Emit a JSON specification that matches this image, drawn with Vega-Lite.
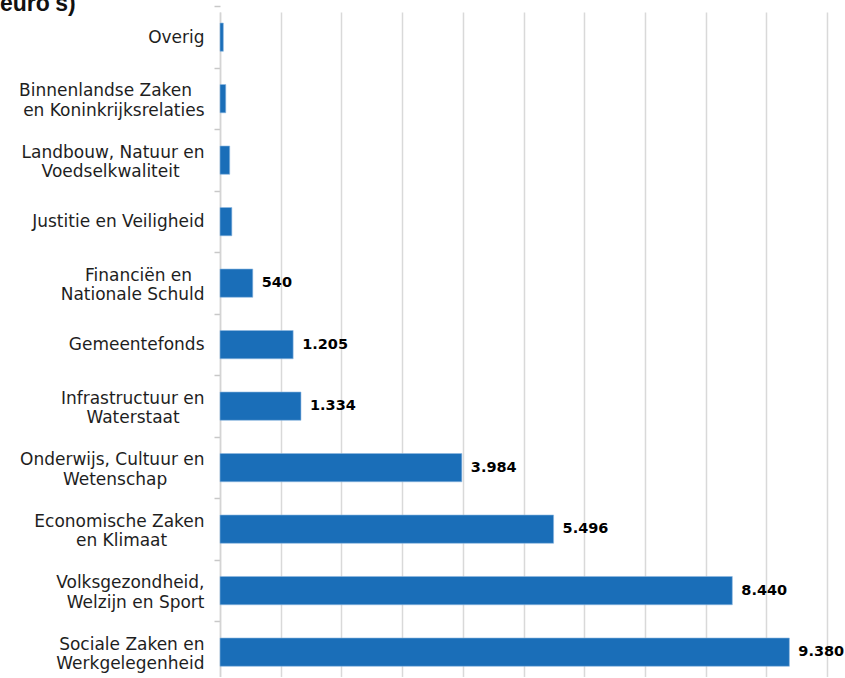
{
  "$schema": "https://vega.github.io/schema/vega-lite/v6.json",
  "autosize": {"type": "none"},
  "padding": {"left": 220, "top": 12, "right": 18, "bottom": 0},
  "width": 607,
  "height": 665.3,
  "title": {
    "text": "euro's)",
    "anchor": "start",
    "frame": "group",
    "orient": "top",
    "offset": 0,
    "dy": 29,
    "baseline": "alphabetic",
    "font": "Liberation Sans",
    "fontWeight": "bold",
    "fontSize": 23,
    "color": "#111111",
    "dx": -220
  },
  "data": {
    "values": [
      {"categorie": "Overig", "bedrag": 55},
      {"categorie": "Binnenlandse Zaken|en Koninkrijksrelaties", "bedrag": 95},
      {"categorie": "Landbouw, Natuur en|Voedselkwaliteit", "bedrag": 160},
      {"categorie": "Justitie en Veiligheid", "bedrag": 195},
      {"categorie": "Financiën en|Nationale Schuld", "bedrag": 540},
      {"categorie": "Gemeentefonds", "bedrag": 1205},
      {"categorie": "Infrastructuur en|Waterstaat", "bedrag": 1334},
      {"categorie": "Onderwijs, Cultuur en|Wetenschap", "bedrag": 3984},
      {"categorie": "Economische Zaken|en Klimaat", "bedrag": 5496},
      {"categorie": "Volksgezondheid,|Welzijn en Sport", "bedrag": 8440},
      {"categorie": "Sociale Zaken en|Werkgelegenheid", "bedrag": 9380}
    ]
  },
  "encoding": {
    "y": {
      "field": "categorie",
      "type": "nominal",
      "sort": null,
      "scale": {"paddingInner": 0.54, "paddingOuter": 0.179},
      "axis": {
        "title": null,
        "labelExpr": "datum.value ? (indexof(datum.value, '|') >= 0 ? [pad(split(datum.value, '|')[0], length(split(datum.value, '|')[0]) + round(max(0, (0.65*length(split(datum.value, '|')[1]) + 0.5*length(replace(split(datum.value, '|')[1], regexp('[ijlI.,]', 'g'), '')) + 0.35*length(replace(split(datum.value, '|')[1], regexp('[ ftr]', 'g'), '')) - 0.5*length(replace(split(datum.value, '|')[1], regexp('[mwMW]', 'g'), ''))) - (0.65*length(split(datum.value, '|')[0]) + 0.5*length(replace(split(datum.value, '|')[0], regexp('[ijlI.,]', 'g'), '')) + 0.35*length(replace(split(datum.value, '|')[0], regexp('[ ftr]', 'g'), '')) - 0.5*length(replace(split(datum.value, '|')[0], regexp('[mwMW]', 'g'), '')))) * 0.415), '\u2800', 'right'), pad(split(datum.value, '|')[1], length(split(datum.value, '|')[1]) + round(max(0, (0.65*length(split(datum.value, '|')[0]) + 0.5*length(replace(split(datum.value, '|')[0], regexp('[ijlI.,]', 'g'), '')) + 0.35*length(replace(split(datum.value, '|')[0], regexp('[ ftr]', 'g'), '')) - 0.5*length(replace(split(datum.value, '|')[0], regexp('[mwMW]', 'g'), ''))) - (0.65*length(split(datum.value, '|')[1]) + 0.5*length(replace(split(datum.value, '|')[1], regexp('[ijlI.,]', 'g'), '')) + 0.35*length(replace(split(datum.value, '|')[1], regexp('[ ftr]', 'g'), '')) - 0.5*length(replace(split(datum.value, '|')[1], regexp('[mwMW]', 'g'), '')))) * 0.415), '\u2800', 'right')] : datum.value) : ''",
        "labelFont": "DejaVu Sans",
        "labelFontSize": 17,
        "labelColor": "#1e1e1e",
        "labelLineHeight": 19.5,
        "labelAlign": "right",
        "labelBaseline": "middle",
        "labelOffset": {"condition": {"test": "datum.value && indexof(datum.value, '|') >= 0", "value": 22.75}, "value": 30.75},
        "labelPadding": 10,
        "labelLimit": 300,
        "tickOffset": -30.75,
        "tickSize": 6,
        "tickColor": "#c8c8c8",
        "tickWidth": 1.5,
        "domainColor": "#d4d4d4",
        "domainWidth": 1.5,
        "grid": false
      }
    },
    "x": {
      "field": "bedrag",
      "type": "quantitative",
      "scale": {"domain": [0, 10000], "nice": false},
      "axis": {
        "title": null,
        "values": [0, 1000, 2000, 3000, 4000, 5000, 6000, 7000, 8000, 9000, 10000],
        "labels": false,
        "ticks": false,
        "domain": false,
        "grid": true,
        "gridColor": "#d9d9d9",
        "gridWidth": 1.5
      }
    }
  },
  "layer": [
    {
      "mark": {"type": "bar", "color": "#1a6eb8", "stroke": "#8fb9e0", "strokeWidth": 0.6}
    },
    {
      "transform": [{"filter": "datum.bedrag >= 500"}],
      "mark": {
        "type": "text",
        "align": "left",
        "baseline": "middle",
        "dx": 9,
        "font": "DejaVu Sans",
        "fontWeight": "bold",
        "fontSize": 14.5,
        "color": "#000000"
      },
      "encoding": {
        "text": {"field": "bedrag", "type": "quantitative", "format": ",.0f"}
      }
    }
  ],
  "config": {
    "view": {"stroke": null},
    "locale": {
      "number": {"decimal": ",", "thousands": ".", "grouping": [3], "currency": ["€ ", ""]}
    }
  }
}
